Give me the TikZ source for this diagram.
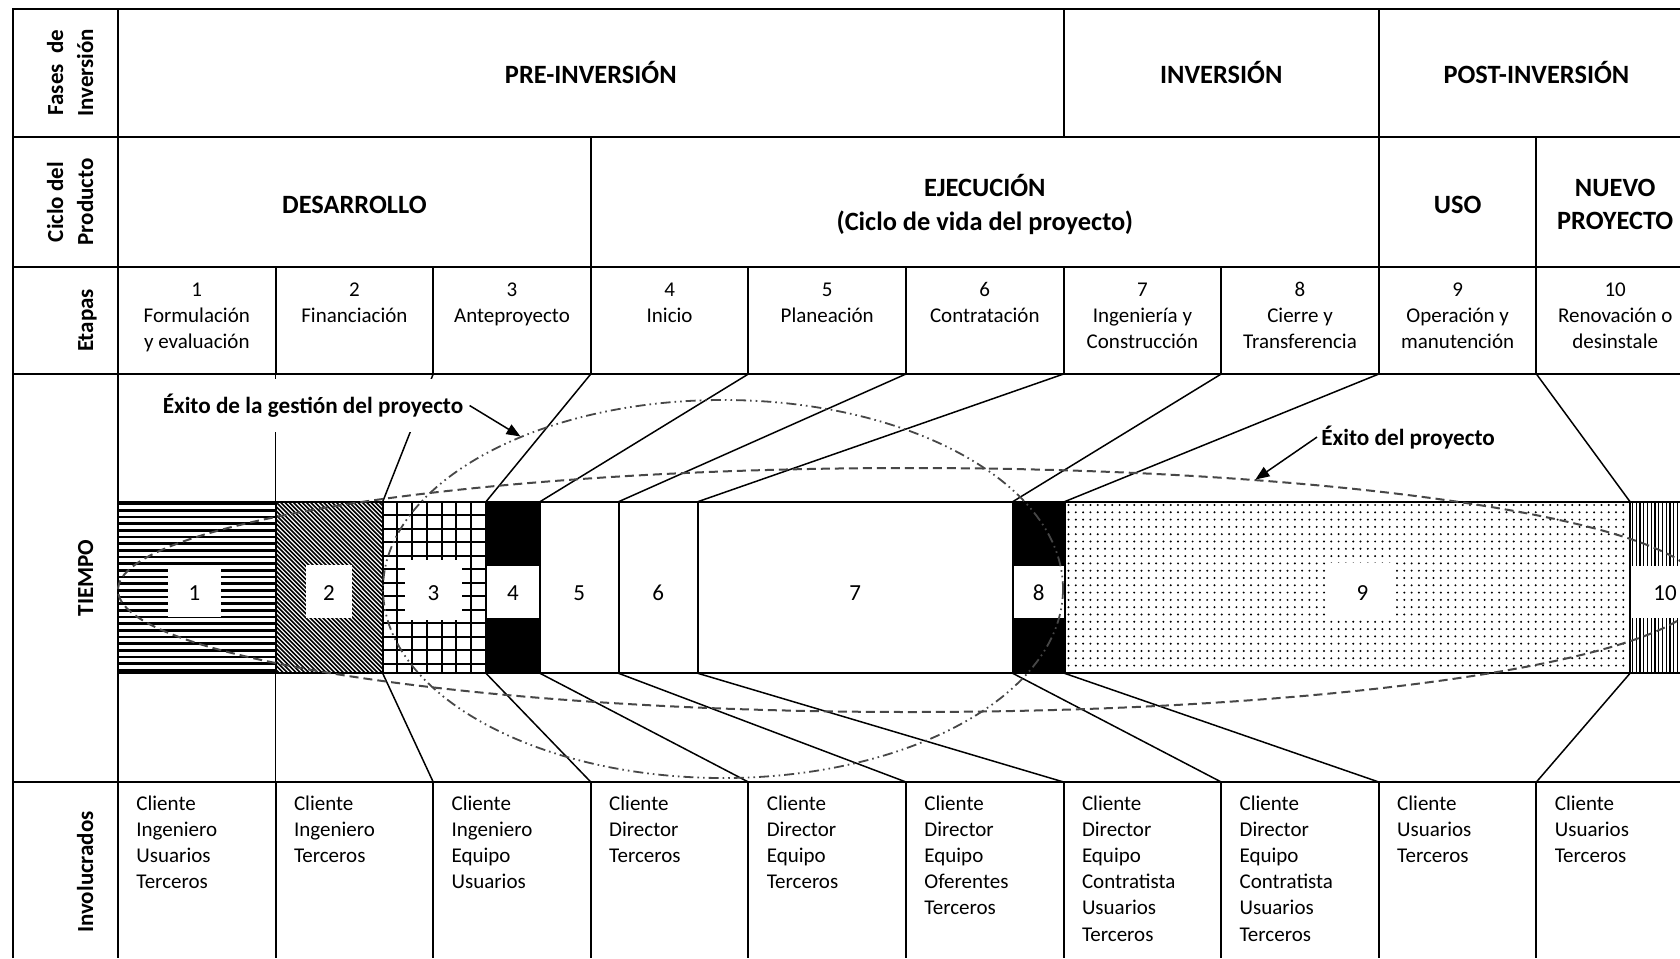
\documentclass[tikz,border=0pt]{standalone}
\usepackage{fontspec}
\setmainfont{Carlito}
\usetikzlibrary{arrows.meta}

\tikzset{
  rule/.style={line width=1pt, black},
  funnel/.style={line width=0.75pt, black},
  head/.style={font=\fontsize{13.2}{16.7}\selectfont\bfseries, anchor=base, inner sep=0pt},
  rowlabel/.style={font=\fontsize{11.5}{14}\selectfont\bfseries, rotate=90, anchor=base, inner sep=0pt},
  stagetxt/.style={font=\fontsize{10.5}{13}\selectfont, anchor=base, inner sep=0pt},
  who/.style={font=\fontsize{10.5}{13}\selectfont, anchor=base west, inner sep=0pt},
  segnum/.style={font=\fontsize{11.5}{14}\selectfont, anchor=base, inner sep=0pt},
  numbox/.style={fill=white, draw=none},
  success/.style={line width=1pt, black!72, dash pattern=on 4.5pt off 2.5pt},
  mgmt/.style={line width=0.9pt, black!72, dash pattern=on 5pt off 2pt on 0.8pt off 2pt on 0.8pt off 2pt},
  callout/.style={font=\fontsize{11.6}{14}\selectfont\bfseries},
  pointer/.style={line width=0.75pt, -{Triangle[length=7pt,width=5.5pt]}},
}

\begin{document}
\begin{tikzpicture}[x=0.5pt,y=-0.5pt]
\useasboundingbox (0,0) rectangle (1680,958);
\clip (0,0) rectangle (1680,958);
\fill[white] (0,0) rectangle (1680,958);

% column boundaries on each row rule
\foreach \i in {0,...,10} {
  \pgfmathsetmacro\cx{118+157.6*\i}
  \coordinate (r0\i) at (\cx,8.5);
  \coordinate (r1\i) at (\cx,137);
  \coordinate (r2\i) at (\cx,267);
  \coordinate (r3\i) at (\cx,374);
  \coordinate (r4\i) at (\cx,782);
  \coordinate (r5\i) at (\cx,958);
}
% segment boundaries of the time bar
\foreach \b [count=\n from 0] in {118,275.6,382.7,486,540,618.6,697.8,1012.7,1064.5,1630,1700} {
  \coordinate (bt\n) at (\b,501.7);
  \coordinate (bb\n) at (\b,673.3);
}

% ---------- time bar fills ----------
% 1: horizontal stripes
\begin{scope}
  \clip (bt0) rectangle (bb1);
  \foreach \k in {0,...,26} \draw[line width=1.35pt] (118,{503.7+6.67*\k}) -- (276,{503.7+6.67*\k});
\end{scope}
% 2: diagonal hatching
\begin{scope}
  \clip (bt1) rectangle (bb2);
  \foreach \k in {-42,...,26} \draw[line width=0.8pt] ({275.6+4.3*\k},501.7) -- ++(175,175);
\end{scope}
% 3: grid
\begin{scope}
  \clip (bt2) rectangle (bb3);
  \foreach \k in {1,...,6} \draw[line width=1pt] ({382.7+14.75*\k},501.7) -- ++(0,171.6);
  \foreach \k in {1,...,12} \draw[line width=1pt] (382.7,{501.7+13.5*\k}) -- ++(110,0);
\end{scope}
% 4 and 8: solid
\fill[black] (bt3) rectangle (bb4);
\fill[black] (bt7) rectangle (bb8);
% 9: dots
\foreach \xi in {0,...,76} \foreach \yi in {0,...,22}
  \fill ({1068.5+7.3*\xi},{505+7.3*\yi}) circle[radius=1.1];
% 10: vertical stripes
\begin{scope}
  \clip (bt9) rectangle (bb10);
  \foreach \k in {0,...,20} \draw[line width=0.65pt] ({1632.5+3.75*\k},501.7) -- ++(0,171.6);
\end{scope}

% white boxes behind the stage numbers
\fill[numbox] (168,567) rectangle (221,617);
\fill[numbox] (306,565) rectangle (352,618);
\fill[numbox] (405,560) rectangle (462,620);
\fill[numbox] (486,566) rectangle (540,618);
\fill[numbox] (1012.7,566) rectangle (1064.5,618);
\fill[numbox] (1329,563) rectangle (1396,620);
\fill[numbox] (1630,566) rectangle (1700,618);

% bar outline and segment dividers
\draw[rule] (bt0) rectangle (bb10);
\foreach \n in {1,...,9} \draw[rule] (bt\n) -- (bb\n);

% stage numbers inside the bar
\foreach \t/\px [count=\n] in {1/194.5,2/329,3/433.5,4/513,5/579.3,6/658.2,7/855.2,8/1038.6,9/1362.5,10/1665}
  \node[segnum] (seg\n) at (\px,600) {\t};

% ---------- table rules ----------
\draw[rule] (13,958) -- (13,8.5) -- (1680,8.5);
\draw[rule] (118,8.5) -- (118,958);
\foreach \y in {137,267,374,782} \draw[rule] (13,\y) -- (1680,\y);
\draw[rule] (r06) -- (r16);
\draw[rule] (r08) -- (r18);
\draw[rule] (r13) -- (r23);
\draw[rule] (r18) -- (r28);
\draw[rule] (r19) -- (r29);
\foreach \i in {1,...,9} {
  \draw[rule] (r2\i) -- (r3\i);
  \draw[rule] (r4\i) -- (r5\i);
}

% funnel lines between stage columns and bar segments
\foreach \i in {1,...,9} {
  \draw[funnel] (r3\i) -- (bt\i);
  \draw[funnel] (bb\i) -- (r4\i);
}

% success envelopes
\draw[success] (910.4,590) ellipse [x radius=792.4, y radius=122];
\draw[mgmt] (723,589) ellipse [x radius=340, y radius=189];

% callouts
\node[callout, fill=white, inner xsep=3pt, inner ysep=7.5pt, anchor=base] (gestion) at (313,413.3) {Éxito de la gestión del proyecto};
\coordinate (gtip) at (520.5,436.5);
\draw[pointer] (gestion.east) -- (gtip);
\node[callout, anchor=base west, inner sep=2pt] (exito) at (1317,445) {Éxito del proyecto};
\coordinate (ptip) at (1255.4,479.5);
\draw[pointer] (exito.west) -- (ptip);

% ---------- row labels ----------
\node[rowlabel] (lf1) at (63,72.7) {Fases\ \ de};
\node[rowlabel] (lf2) at (93,72.7) {Inversión};
\node[rowlabel] (lc1) at (63,202) {Ciclo del};
\node[rowlabel] (lc2) at (93,202) {Producto};
\node[rowlabel] (le) at (93,320.5) {Etapas};
\node[rowlabel] (lt) at (93,578) {TIEMPO};
\node[rowlabel] (li) at (93,872) {Involucrados};

% ---------- phase and product headers ----------
\node[head] (pre) at (590.8,83.3) {PRE-INVERSIÓN};
\node[head] (inv) at (1221.2,83.3) {INVERSIÓN};
\node[head] (post) at (1536.4,83.3) {POST-INVERSIÓN};
\node[head] (des) at (354.4,213.3) {DESARROLLO};
\node[head] (eje1) at (984.8,196.7) {EJECUCIÓN};
\node[head] (eje2) at (984.8,230) {(Ciclo de vida del proyecto)};
\node[head] (uso) at (1457.6,213.3) {USO};
\node[head] (nue1) at (1615.2,196.7) {NUEVO};
\node[head] (nue2) at (1615.2,229) {PROYECTO};

% ---------- stages ----------
\foreach \i/\a/\b/\c in {
  0/1/Formulación/y evaluación,
  1/2/Financiación/,
  2/3/Anteproyecto/,
  3/4/Inicio/,
  4/5/Planeación/,
  5/6/Contratación/,
  6/7/Ingeniería y/Construcción,
  7/8/Cierre y/Transferencia,
  8/9/Operación y/manutención,
  9/10/Renovación o/desinstale} {
  \pgfmathsetmacro\sx{118+157.6*\i+78.8}
  \node[stagetxt] (st\i a) at (\sx,296.7) {\a};
  \node[stagetxt] (st\i b) at (\sx,322.5) {\b};
  \node[stagetxt] (st\i c) at (\sx,348.3) {\c};
}

% ---------- stakeholders ----------
\foreach \i/\list in {
  0/{Cliente,Ingeniero,Usuarios,Terceros},
  1/{Cliente,Ingeniero,Terceros},
  2/{Cliente,Ingeniero,Equipo,Usuarios},
  3/{Cliente,Director,Terceros},
  4/{Cliente,Director,Equipo,Terceros},
  5/{Cliente,Director,Equipo,Oferentes,Terceros},
  6/{Cliente,Director,Equipo,Contratista,Usuarios,Terceros},
  7/{Cliente,Director,Equipo,Contratista,Usuarios,Terceros},
  8/{Cliente,Usuarios,Terceros},
  9/{Cliente,Usuarios,Terceros}} {
  \pgfmathsetmacro\wx{118+157.6*\i+18}
  \foreach \w [count=\j from 0] in \list
    \node[who] (w\i-\j) at (\wx,{810.5+26.1*\j}) {\w};
}
\end{tikzpicture}
\end{document}
